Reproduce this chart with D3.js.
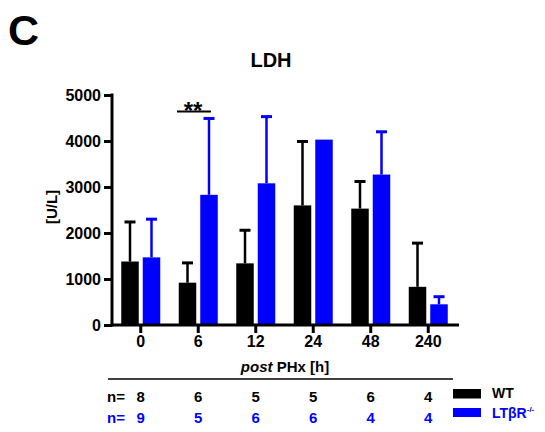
<!DOCTYPE html>
<html>
<head>
<meta charset="utf-8">
<script src="https://cdn.jsdelivr.net/npm/d3@7"></script>
<style>
  body { margin: 0; background: #fff; }
  text { font-family: Arial, "Liberation Sans", sans-serif; }
</style>
</head>
<body>
<script>
var times = ["0", "6", "12", "24", "48", "240"];
var wtMean = [1380, 920, 1340, 2600, 2530, 830];
var wtErr = [860, 430, 720, 1390, 590, 950];
var koMean = [1470, 2830, 3080, 4030, 3270, 450];
var koErr = [830, 1660, 1450, 0, 930, 165];
var nWT = [8, 6, 5, 5, 6, 4];
var nKO = [9, 5, 6, 6, 4, 4];
var yTicks = [0, 1000, 2000, 3000, 4000, 5000];

var blue = "#0000ff";
var width = 545, height = 432;

var svg = d3.select("body").append("svg")
  .attr("width", width)
  .attr("height", height);

var x = d3.scaleBand()
  .domain(times)
  .range([112, 457])
  .padding(0);

var y = d3.scaleLinear()
  .domain([0, 5000])
  .range([325, 95]);

var barW = 17.5, gap = 2;

var groups = [
  {name: "WT", mean: wtMean, err: wtErr, color: "#000", off: -gap - barW},
  {name: "KO", mean: koMean, err: koErr, color: blue, off: gap}
];

function cx(t) { return x(t) + x.bandwidth() / 2; }

// bars
groups.forEach(function(g) {
  var data = times.map(function(t, i) { return {t: t, m: g.mean[i], e: g.err[i]}; });
  svg.append("g").selectAll("rect")
    .data(data)
    .enter().append("rect")
    .attr("x", function(d) { return cx(d.t) + g.off; })
    .attr("y", function(d) { return y(d.m); })
    .attr("width", barW)
    .attr("height", function(d) { return y(0) - y(d.m); })
    .attr("fill", g.color);

  var eb = svg.append("g").selectAll("g")
    .data(data.filter(function(d) { return d.e > 0; }))
    .enter().append("g")
    .attr("stroke", g.color)
    .attr("stroke-width", 2.5);
  eb.append("line")
    .attr("x1", function(d) { return cx(d.t) + g.off + barW / 2; })
    .attr("x2", function(d) { return cx(d.t) + g.off + barW / 2; })
    .attr("y1", function(d) { return y(d.m); })
    .attr("y2", function(d) { return y(d.m + d.e); });
  eb.append("line")
    .attr("x1", function(d) { return cx(d.t) + g.off + barW / 2 - 5.5; })
    .attr("x2", function(d) { return cx(d.t) + g.off + barW / 2 + 5.5; })
    .attr("y1", function(d) { return y(d.m + d.e); })
    .attr("y2", function(d) { return y(d.m + d.e); })
    .attr("stroke-width", 3);
});

// y axis
var yAxis = svg.append("g")
  .attr("transform", "translate(112,0)")
  .call(d3.axisLeft(y).tickValues(yTicks).tickFormat(d3.format("d"))
    .tickSize(8).tickPadding(3).tickSizeOuter(0));
yAxis.select(".domain").attr("stroke-width", 3).attr("d", "M0," + (y(0) + 1.5) + "V" + (y(5000) - 1.5));
yAxis.selectAll(".tick line").attr("stroke-width", 3);
yAxis.selectAll(".tick text")
  .attr("font-size", 16).attr("font-weight", "bold").attr("fill", "#000")
  .attr("font-family", "Arial, 'Liberation Sans', sans-serif");

// x axis
var xAxis = svg.append("g")
  .attr("transform", "translate(0," + y(0) + ")")
  .call(d3.axisBottom(x).tickSize(8).tickPadding(3).tickSizeOuter(0));
xAxis.select(".domain").attr("stroke-width", 3).attr("d", "M110.5,0H459");
xAxis.selectAll(".tick line").attr("stroke-width", 3);
xAxis.selectAll(".tick text")
  .attr("font-size", 16).attr("font-weight", "bold").attr("fill", "#000")
  .attr("font-family", "Arial, 'Liberation Sans', sans-serif");

// y label
svg.append("text")
  .attr("transform", "translate(57,207) rotate(-90)")
  .attr("text-anchor", "middle")
  .attr("font-size", 15).attr("font-weight", "bold")
  .text("[U/L]");

// title and panel letter
svg.append("text")
  .attr("x", 271).attr("y", 67)
  .attr("text-anchor", "middle")
  .attr("font-size", 20).attr("font-weight", "bold")
  .text("LDH");
svg.append("text")
  .attr("x", 8).attr("y", 45)
  .attr("font-size", 43).attr("font-weight", "bold")
  .text("C");

// significance
svg.append("line")
  .attr("x1", 177).attr("x2", 211)
  .attr("y1", 111.5).attr("y2", 111.5)
  .attr("stroke", "#000").attr("stroke-width", 2);
svg.append("text")
  .attr("x", 193).attr("y", 119)
  .attr("text-anchor", "middle")
  .attr("font-size", 24).attr("font-weight", "bold")
  .text("**");

// x label
var xl = svg.append("text")
  .attr("x", 285).attr("y", 372)
  .attr("text-anchor", "middle")
  .attr("font-size", 15).attr("font-weight", "bold");
xl.append("tspan").attr("font-style", "italic").text("post");
xl.append("tspan").text(" PHx [h]");
svg.append("line")
  .attr("x1", 108).attr("x2", 453)
  .attr("y1", 379).attr("y2", 379)
  .attr("stroke", "#000").attr("stroke-width", 1.5);

// n rows
[{n: nWT, color: "#000", yy: 402}, {n: nKO, color: blue, yy: 423}].forEach(function(r) {
  svg.append("text")
    .attr("x", 107).attr("y", r.yy)
    .attr("font-size", 15).attr("font-weight", "bold").attr("fill", r.color)
    .text("n=");
  svg.append("g").selectAll("text")
    .data(r.n)
    .enter().append("text")
    .attr("x", function(d, i) { return cx(times[i]); })
    .attr("y", r.yy)
    .attr("text-anchor", "middle")
    .attr("font-size", 15).attr("font-weight", "bold").attr("fill", r.color)
    .text(function(d) { return d; });
});

// legend
svg.append("rect").attr("x", 453).attr("y", 389).attr("width", 28).attr("height", 9.5).attr("fill", "#000");
svg.append("rect").attr("x", 453).attr("y", 408).attr("width", 28).attr("height", 9).attr("fill", blue);
svg.append("text")
  .attr("x", 492).attr("y", 398)
  .attr("font-size", 14).attr("font-weight", "bold")
  .text("WT");
var lk = svg.append("text")
  .attr("x", 492).attr("y", 418)
  .attr("font-size", 14).attr("font-weight", "bold").attr("fill", blue);
lk.append("tspan").text("LTβR");
lk.append("tspan").attr("font-size", 8).attr("dy", -6).text("-/-");
</script>
</body>
</html>
